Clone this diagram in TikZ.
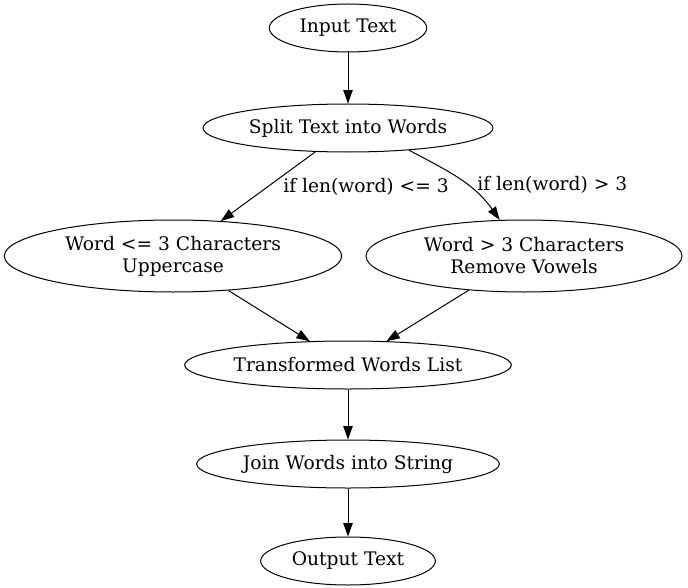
\documentclass[tikz,border=0pt]{standalone}
\usepackage{fontspec}
\setmainfont{DejaVu Serif}
\usetikzlibrary{shapes.geometric, arrows.meta, positioning}

\begin{document}
\begin{tikzpicture}[
  font=\fontsize{14}{16.5}\selectfont,
  node distance=37.5pt,
  flow/.style={ellipse, draw, line width=0.75pt, minimum height=36pt, inner sep=0pt, align=center},
  arrow/.style={-{Triangle[length=10pt, width=7pt]}, line width=0.75pt},
  lbl/.style={inner sep=0pt}
]

\useasboundingbox (-261pt,21pt) rectangle (255pt,-420pt);

\node (input_text) [flow, minimum width=118pt] {Input Text};
\node (split_words) [flow, below=38.25pt of input_text, minimum width=217.5pt] {Split Text into Words};

\node (short_word) [flow, below=50.25pt of split_words, xshift=-131.25pt, minimum width=253pt, minimum height=54pt] {Word <= 3 Characters\\Uppercase};
\node (long_word) [flow, below=50.25pt of split_words, xshift=132pt, minimum width=237pt, minimum height=54pt] {Word > 3 Characters\\Remove Vowels};

\node (transformed) [flow, below=141pt of split_words, minimum width=245pt] {Transformed Words List};
\node (join_words) [flow, below=of transformed, minimum width=227pt] {Join Words into String};
\node (output_text) [flow, below=36pt of join_words, minimum width=131pt] {Output Text};

\draw [arrow] (input_text) -- (split_words);
\draw [arrow] (split_words) -- node[lbl, right=11pt] (len_short) {if len(word) <= 3} (short_word);
\draw [arrow] (split_words.-20) to[out=-28, in=125] node[lbl, right=13pt, yshift=-4.5pt] (len_long) {if len(word) > 3} (long_word.124);
\draw [arrow] (short_word) -- (transformed);
\draw [arrow] (long_word) -- (transformed);
\draw [arrow] (transformed) -- (join_words);
\draw [arrow] (join_words) -- (output_text);

\end{tikzpicture}
\end{document}
